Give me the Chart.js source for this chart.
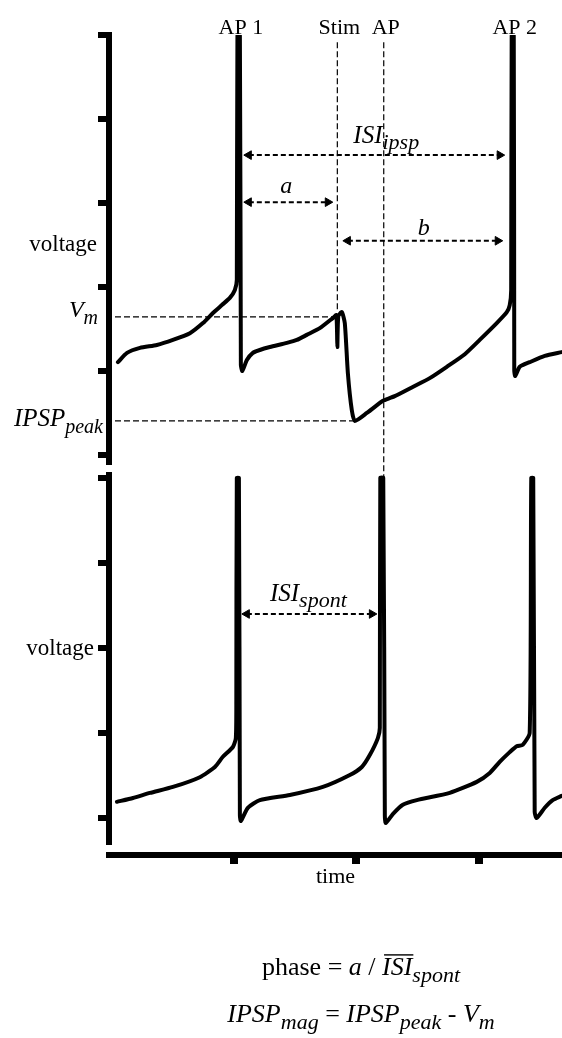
<!DOCTYPE html>
<html>
<head>
<meta charset="utf-8">
<title>IPSP phase response</title>
<script src="https://cdn.jsdelivr.net/npm/chart.js@4.4.1/dist/chart.umd.min.js"></script>
<style>
    html, body { margin: 0; padding: 0; background: #fff; }
    canvas { display: block; }
</style>
</head>
<body>
<canvas id="traceChart" width="562" height="1038"></canvas>
<script>
// Time axis (ms) and voltage ticks (mV) for each panel
const timeTicks = [100, 200, 300];
const topVoltageTicks = [-80, -60, -40, -20, 0, 20];
const bottomVoltageTicks = [-60, -40, -20, 0, 20];

// Upper trace: firing with an IPSP delivered between AP 1 and AP 2
const ipspTime = [5.3, 12.7, 23.3, 37.1, 50.2, 64.1, 74.7, 82.9, 90.2, 96.7, 100.8, 102.4, 102.9, 104.9,
    105.7, 106.9, 110.6, 115.5, 121.2, 129.4, 143.3, 151.4, 159.6, 170.2, 180.8, 183.7, 184.5, 185.3,
    188.2, 190.6, 193.1, 196.3, 198.8, 208.6, 219.2, 221.6, 231.4, 246.1, 260.0, 273.9,
    288.6, 300.8, 314.7, 322.9, 325.3, 326.5, 326.9, 328.6, 329.0, 329.8, 333.5, 341.6, 353.9, 367.8];
const ipspVoltage = [-57.9, -55.7, -54.5, -53.8, -52.6, -51.0, -48.6, -46.2, -44.3, -42.6, -40.7, -38.3, 19.8, 19.8,
    -58.6, -60.0, -57.4, -55.7, -55.0, -54.3, -53.3, -52.6, -51.4, -49.8, -47.4, -46.7, -54.3, -46.9,
    -46.0, -48.6, -60.5, -69.3, -71.9, -70.0, -67.6, -67.1, -66.0, -63.8, -61.7, -59.0,
    -56.0, -52.6, -48.6, -46.0, -44.3, -40.7, 19.8, 19.8, -59.8, -61.2, -59.0, -57.9, -56.4, -55.5];

// Lower trace: spontaneous firing
const spontTime = [4.5, 17.6, 31.4, 50.2, 72.2, 84.5, 91.0, 99.2, 101.6, 102.0, 102.4, 104.1, 104.9, 105.7,
    111.4, 121.2, 145.7, 172.7, 194.7, 204.5, 211.0, 217.6, 219.2, 219.6, 222.0, 223.3, 224.1, 229.8,
    238.0, 249.4, 276.3, 298.4, 309.0, 317.1, 325.3, 331.0, 335.9, 341.6, 342.9, 344.5, 345.7, 347.3,
    353.9, 360.4, 367.8];
const spontVoltage = [-56.2, -55.3, -54.1, -52.7, -50.4, -48.0, -45.6, -43.3, -41.2, -32.2, 20.0, 20.0, -59.3, -60.7,
    -57.6, -55.8, -54.6, -52.7, -49.9, -48.0, -45.2, -41.2, -38.8, 20.0, 20.0, -59.5, -61.2, -59.1,
    -56.9, -55.8, -54.1, -51.5, -49.4, -46.8, -44.5, -43.1, -42.8, -40.0, 20.0, 20.0, -58.6, -60.0,
    -57.6, -55.8, -54.8];

// Event markers
const eventLabels = ['AP 1', 'Stim', 'AP', 'AP 2'];
const eventTimes = [104.1, 184.5, 222.4, 327.8];
const markerTop = 18.3;          // where the stim / AP guide lines start
const stimGuideEnd = -46.0;      // stim guide ends at the pre-stim peak
const apGuideEnd = -85.5;        // AP guide runs down to the lower spike
const vmLevel = -47.1;
const ipspPeakLevel = -71.9;
const ipspPeakTime = 198.8;
const levelStart = 2.9;

// Interval arrows: [start, end] in ms, plus the voltage they sit at
const isiIpspSpan = [112.2, 317.1];
const isiIpspLevel = -8.6;
const aSpan = [112.2, 176.7];
const aLevel = -19.8;
const bSpan = [193.1, 315.5];
const bLevel = -29.0;
const isiSpontSpan = [110.6, 212.7];
const isiSpontLevel = -12.0;

const serif = '"Liberation Serif", "Times New Roman", serif';

const toPoints = (xs, ys) => xs.map((x, i) => ({ x: x, y: ys[i] }));

function traceDataset(xs, ys, axis) {
    return {
        data: toPoints(xs, ys),
        yAxisID: axis,
        borderColor: '#000',
        borderWidth: 4,
        borderJoinStyle: 'round',
        borderCapStyle: 'round',
        tension: 0.2,
        pointRadius: 0
    };
}

function guideDataset(points, axis) {
    return {
        data: points,
        yAxisID: axis,
        borderColor: '#000',
        borderWidth: 1.2,
        borderDash: [6, 3],
        tension: 0,
        pointRadius: 0,
        clip: false
    };
}

function arrowDataset(span, level, axis) {
    return {
        data: [{ x: span[0], y: level }, { x: span[1], y: level }],
        yAxisID: axis,
        borderColor: '#000',
        borderWidth: 2,
        borderDash: [5, 3],
        tension: 0,
        pointStyle: 'triangle',
        pointRadius: 5,
        pointRotation: [-90, 90],
        pointBackgroundColor: '#000',
        pointBorderColor: '#000',
        pointBorderWidth: 1
    };
}

// Text runs: plain, italic, subscript
const plain = (text, size = 22) => ({ text: text, italic: false, size: size });
const ital = (text, size = 22) => ({ text: text, italic: true, size: size });
const sub = (text, size = 19, drop = 6) => ({ text: text, italic: true, size: size, drop: drop });

const fontFor = run => `${run.italic ? 'italic ' : ''}${run.size}px ${serif}`;

function drawRuns(ctx, runs, x, y, align) {
    const widths = runs.map(r => { ctx.font = fontFor(r); return ctx.measureText(r.text).width; });
    const total = widths.reduce((a, b) => a + b, 0);
    let cx = align === 'right' ? x - total : align === 'center' ? x - total / 2 : x;
    ctx.textAlign = 'left';
    ctx.textBaseline = 'alphabetic';
    runs.forEach((r, i) => {
        ctx.font = fontFor(r);
        ctx.fillText(r.text, cx, y + (r.drop || 0));
        if (r.overline) ctx.fillRect(cx + 2, y - r.size * 0.8, widths[i] - 1, 1.4);
        cx += widths[i];
    });
}

const labelPlugin = {
    id: 'traceLabels',
    afterDraw(chart) {
        const { ctx, chartArea } = chart;
        const { x, yTop, yBot } = chart.scales;
        const left = chartArea.left;
        ctx.save();
        ctx.fillStyle = '#000';

        // event names above the upper panel
        const headY = yTop.getPixelForValue(20) - 1;
        eventLabels.forEach((label, i) => {
            drawRuns(ctx, [plain(label)], x.getPixelForValue(eventTimes[i]) + 2, headY, 'center');
        });

        // axis names and level labels
        drawRuns(ctx, [plain('voltage', 23)], left - 12, yTop.getPixelForValue(-30) + 6, 'right');
        drawRuns(ctx, [plain('voltage', 23)], left - 15, yBot.getPixelForValue(-20) + 7, 'right');
        drawRuns(ctx, [ital('V', 24), sub('m', 20, 7)], left - 11, yTop.getPixelForValue(vmLevel), 'right');
        drawRuns(ctx, [ital('IPSP', 25), sub('peak', 20, 7)], left - 6, yTop.getPixelForValue(ipspPeakLevel) + 5, 'right');

        // interval names over the arrows
        const mid = span => x.getPixelForValue((span[0] + span[1]) / 2);
        drawRuns(ctx, [ital('ISI', 25), sub('ipsp', 22, 6)], mid(isiIpspSpan) + 12, yTop.getPixelForValue(isiIpspLevel) - 12, 'center');
        drawRuns(ctx, [ital('a', 24)], mid(aSpan) - 2, yTop.getPixelForValue(aLevel) - 9, 'center');
        drawRuns(ctx, [ital('b', 24)], mid(bSpan) + 1, yTop.getPixelForValue(bLevel) - 6, 'center');
        drawRuns(ctx, [ital('ISI', 25), sub('spont', 22, 6)], mid(isiSpontSpan) - 1, yBot.getPixelForValue(isiSpontLevel) - 13, 'center');

        // definitions below the chart
        const eqX = 361;
        const isiBar = ital('ISI', 26);
        isiBar.overline = true;
        drawRuns(ctx, [plain('phase = ', 26), ital('a', 26), plain(' / ', 26), isiBar, sub('spont', 22, 7)], eqX, 975, 'center');
        drawRuns(ctx, [ital('IPSP', 26), sub('mag', 22, 7), plain(' = ', 26), ital('IPSP', 26), sub('peak', 22, 7),
            plain(' - ', 26), ital('V', 26), sub('m', 22, 7)], eqX, 1022, 'center');

        ctx.restore();
    }
};

const axisColor = '#000';

function panelScale(min, max, ticks, order, stackWeight) {
    return {
        type: 'linear',
        position: 'left',
        stack: 'panels',
        stackWeight: stackWeight,
        weight: order,
        min: min,
        max: max,
        afterBuildTicks: scale => { scale.ticks = ticks.map(v => ({ value: v })); },
        border: { display: true, width: 6, color: axisColor },
        grid: { display: true, drawOnChartArea: false, drawTicks: true, tickLength: 11, lineWidth: 6, color: axisColor },
        ticks: { display: false }
    };
}

function gapScale(order, stackWeight) {
    return {
        type: 'linear',
        position: 'left',
        stack: 'panels',
        stackWeight: stackWeight,
        weight: order,
        border: { display: false },
        grid: { display: false },
        ticks: { display: false }
    };
}

const ctx = document.getElementById('traceChart').getContext('2d');
const traceChart = new Chart(ctx, {
    type: 'line',
    data: {
        datasets: [
            traceDataset(ipspTime, ipspVoltage, 'yTop'),
            traceDataset(spontTime, spontVoltage, 'yBot'),
            guideDataset([{ x: eventTimes[1], y: markerTop }, { x: eventTimes[1], y: stimGuideEnd }], 'yTop'),
            guideDataset([{ x: eventTimes[2], y: markerTop }, { x: eventTimes[2], y: apGuideEnd }], 'yTop'),
            guideDataset([{ x: levelStart, y: vmLevel }, { x: eventTimes[1], y: vmLevel }], 'yTop'),
            guideDataset([{ x: levelStart, y: ipspPeakLevel }, { x: ipspPeakTime, y: ipspPeakLevel }], 'yTop'),
            arrowDataset(isiIpspSpan, isiIpspLevel, 'yTop'),
            arrowDataset(aSpan, aLevel, 'yTop'),
            arrowDataset(bSpan, bLevel, 'yTop'),
            arrowDataset(isiSpontSpan, isiSpontLevel, 'yBot')
        ]
    },
    options: {
        responsive: false,
        animation: false,
        events: [],
        layout: { autoPadding: false, padding: { left: 98, top: 35, right: 0, bottom: 147.6 } },
        plugins: { legend: { display: false }, tooltip: { enabled: false } },
        scales: {
            x: {
                type: 'linear',
                position: 'bottom',
                min: -2,
                max: 368,
                afterBuildTicks: scale => { scale.ticks = timeTicks.map(v => ({ value: v })); },
                border: { display: true, width: 6, color: axisColor },
                grid: { display: true, drawOnChartArea: false, drawTicks: true, tickLength: 9, lineWidth: 6, tickWidth: 8, color: axisColor },
                ticks: { display: false },
                title: { display: true, text: 'time', color: '#000', font: { family: serif, size: 22 }, padding: { top: 0, bottom: 0 } }
            },
            yTop: panelScale(-81.67, 20, topVoltageTicks, 4, 427),
            yGap1: gapScale(3, 13),
            yBot: panelScale(-65.65, 20.7, bottomVoltageTicks, 2, 367),
            yGap2: gapScale(1, 13)
        }
    },
    plugins: [labelPlugin]
});
</script>
</body>
</html>
